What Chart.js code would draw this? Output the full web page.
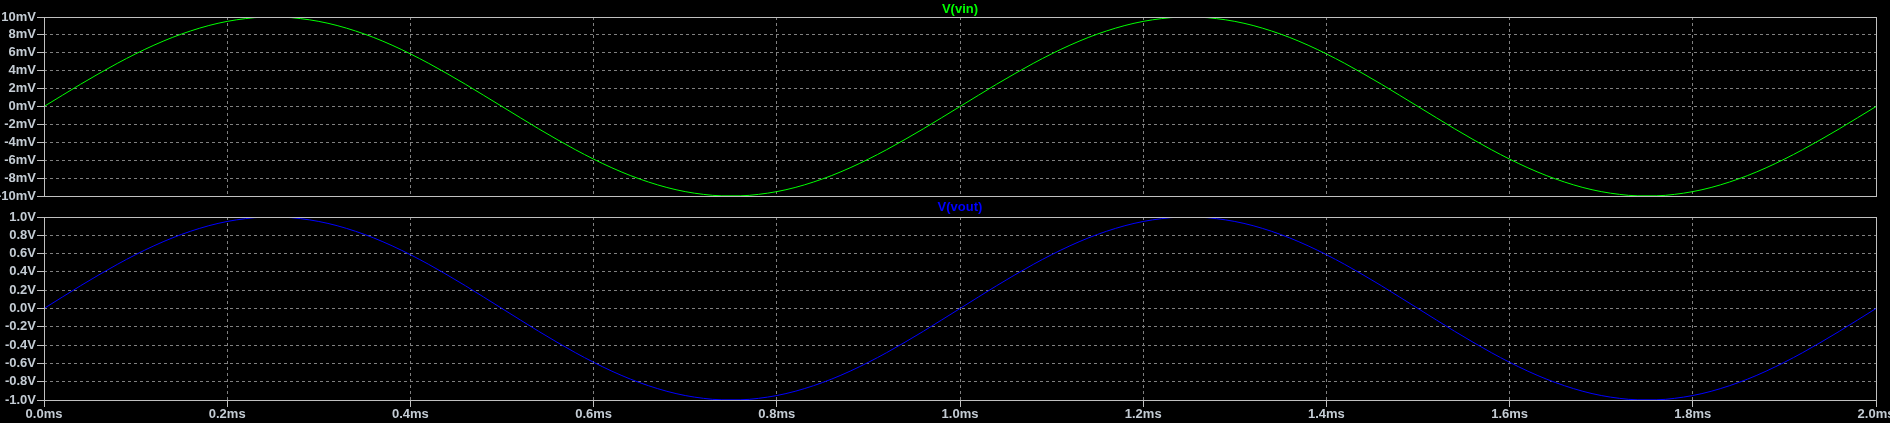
<!DOCTYPE html>
<html>
<head>
<meta charset="utf-8">
<script src="https://cdn.jsdelivr.net/npm/chart.js@4/dist/chart.umd.min.js"></script>
<style>
  html, body { margin: 0; padding: 0; background: #000; width: 1890px; height: 423px; overflow: hidden; }
  canvas { position: absolute; left: 0; display: block; }
  #c1 { top: 0; }
  #c2 { top: 200px; }
</style>
</head>
<body>
<canvas id="c1" width="1890" height="200"></canvas>
<canvas id="c2" width="1890" height="223"></canvas>
<script>
// ---- data ----
const timeMs = [0,0.02,0.04,0.06,0.08,0.10,0.12,0.14,0.16,0.18,0.20,0.22,0.24,0.26,0.28,0.30,0.32,0.34,0.36,0.38,0.40,0.42,0.44,0.46,0.48,0.50,0.52,0.54,0.56,0.58,0.60,0.62,0.64,0.66,0.68,0.70,0.72,0.74,0.76,0.78,0.80,0.82,0.84,0.86,0.88,0.90,0.92,0.94,0.96,0.98,1.00,1.02,1.04,1.06,1.08,1.10,1.12,1.14,1.16,1.18,1.20,1.22,1.24,1.26,1.28,1.30,1.32,1.34,1.36,1.38,1.40,1.42,1.44,1.46,1.48,1.50,1.52,1.54,1.56,1.58,1.60,1.62,1.64,1.66,1.68,1.70,1.72,1.74,1.76,1.78,1.80,1.82,1.84,1.86,1.88,1.90,1.92,1.94,1.96,1.98,2.00];

const vinMilliVolts = [0,1.25,2.49,3.68,4.82,5.88,6.85,7.71,8.44,9.05,9.51,9.82,9.98,9.98,9.82,9.51,9.05,8.44,7.71,6.85,5.88,4.82,3.68,2.49,1.25,0,-1.25,-2.49,-3.68,-4.82,-5.88,-6.85,-7.71,-8.44,-9.05,-9.51,-9.82,-9.98,-9.98,-9.82,-9.51,-9.05,-8.44,-7.71,-6.85,-5.88,-4.82,-3.68,-2.49,-1.25,
  0,1.25,2.49,3.68,4.82,5.88,6.85,7.71,8.44,9.05,9.51,9.82,9.98,9.98,9.82,9.51,9.05,8.44,7.71,6.85,5.88,4.82,3.68,2.49,1.25,0,-1.25,-2.49,-3.68,-4.82,-5.88,-6.85,-7.71,-8.44,-9.05,-9.51,-9.82,-9.98,-9.98,-9.82,-9.51,-9.05,-8.44,-7.71,-6.85,-5.88,-4.82,-3.68,-2.49,-1.25,0];

const voutVolts = [0,0.125,0.249,0.368,0.482,0.588,0.685,0.771,0.844,0.905,0.951,0.982,0.998,0.998,0.982,0.951,0.905,0.844,0.771,0.685,0.588,0.482,0.368,0.249,0.125,0,-0.125,-0.249,-0.368,-0.482,-0.588,-0.685,-0.771,-0.844,-0.905,-0.951,-0.982,-0.998,-0.998,-0.982,-0.951,-0.905,-0.844,-0.771,-0.685,-0.588,-0.482,-0.368,-0.249,-0.125,
  0,0.125,0.249,0.368,0.482,0.588,0.685,0.771,0.844,0.905,0.951,0.982,0.998,0.998,0.982,0.951,0.905,0.844,0.771,0.685,0.588,0.482,0.368,0.249,0.125,0,-0.125,-0.249,-0.368,-0.482,-0.588,-0.685,-0.771,-0.844,-0.905,-0.951,-0.982,-0.998,-0.998,-0.982,-0.951,-0.905,-0.844,-0.771,-0.685,-0.588,-0.482,-0.368,-0.249,-0.125,0];

const xTickLabels = ['0.0ms','0.2ms','0.4ms','0.6ms','0.8ms','1.0ms','1.2ms','1.4ms','1.6ms','1.8ms','2.0ms'];
const vinTickLabels = ['-10mV','-8mV','-6mV','-4mV','-2mV','0mV','2mV','4mV','6mV','8mV','10mV'];
const voutTickLabels = ['-1.0V','-0.8V','-0.6V','-0.4V','-0.2V','0.0V','0.2V','0.4V','0.6V','0.8V','1.0V'];
const titles = ['V(vin)', 'V(vout)'];

// ---- styling ----
const FONT = { family: '"Liberation Sans", Arial, sans-serif', size: 13, weight: 'bold' };
const TEXT_COLOR = '#c4ccd4';
const FRAME_COLOR = '#c0c0c0';
const GRID_COLOR = '#808080';

const framePlugin = {
  id: 'frame',
  afterDraw(chart, args, opts) {
    const { ctx, chartArea: a } = chart;
    ctx.save();
    ctx.strokeStyle = FRAME_COLOR;
    ctx.lineWidth = 1;
    ctx.strokeRect(Math.round(a.left) + 0.5, Math.round(a.top) + 0.5,
                   Math.round(a.right) - Math.round(a.left), Math.round(a.bottom) - Math.round(a.top));
    ctx.fillStyle = opts.color;
    ctx.font = 'bold 13px "Liberation Sans", Arial, sans-serif';
    ctx.textAlign = 'center';
    ctx.textBaseline = 'middle';
    ctx.fillText(opts.text, (a.left + a.right) / 2, opts.y);
    ctx.restore();
  }
};

function points(ys) { return timeMs.map((t, i) => ({ x: t, y: ys[i] })); }

function makeChart(id, ys, color, yLabels, yMin, yMax, yStep, title, titleY, showX) {
  return new Chart(document.getElementById(id), {
    type: 'line',
    data: { datasets: [{ data: points(ys), borderColor: color, borderWidth: 1, pointRadius: 0,
                         cubicInterpolationMode: 'monotone', fill: false }] },
    options: {
      responsive: false, animation: false, devicePixelRatio: 1,
      layout: { padding: { left: 0, right: 14, top: 17, bottom: showX ? 0 : 4 } },
      plugins: { legend: { display: false }, tooltip: { enabled: false },
                 frame: { text: title, color: color, y: titleY } },
      scales: {
        x: {
          type: 'linear', min: 0, max: 2,
          ticks: { stepSize: 0.2, display: showX, autoSkip: false, maxRotation: 0, padding: 0,
                   color: TEXT_COLOR, font: FONT,
                   callback: (v, i) => xTickLabels[i] },
          grid: { color: GRID_COLOR, drawTicks: showX, tickLength: 7, tickColor: FRAME_COLOR, tickBorderDash: [] },
          border: { display: false, dash: [3, 3] },
          afterFit(s) { s.height = showX ? 23 : 0; s.paddingLeft = 0; s.paddingRight = 0; }
        },
        y: {
          type: 'linear', min: yMin, max: yMax,
          ticks: { stepSize: yStep, autoSkip: false, padding: 1, color: TEXT_COLOR, font: FONT,
                   callback: (v, i) => yLabels[i] },
          grid: { color: GRID_COLOR, drawTicks: true, tickLength: 7, tickColor: FRAME_COLOR, tickBorderDash: [] },
          border: { display: false, dash: [3, 3] },
          afterFit(s) { s.width = 44; s.paddingTop = 0; s.paddingBottom = 0; }
        }
      }
    },
    plugins: [framePlugin]
  });
}

makeChart('c1', vinMilliVolts, '#00ff00', vinTickLabels, -10, 10, 2, titles[0], 9, false);
makeChart('c2', voutVolts, '#0000ff', voutTickLabels, -1, 1, 0.2, titles[1], 7, true);
</script>
</body>
</html>
